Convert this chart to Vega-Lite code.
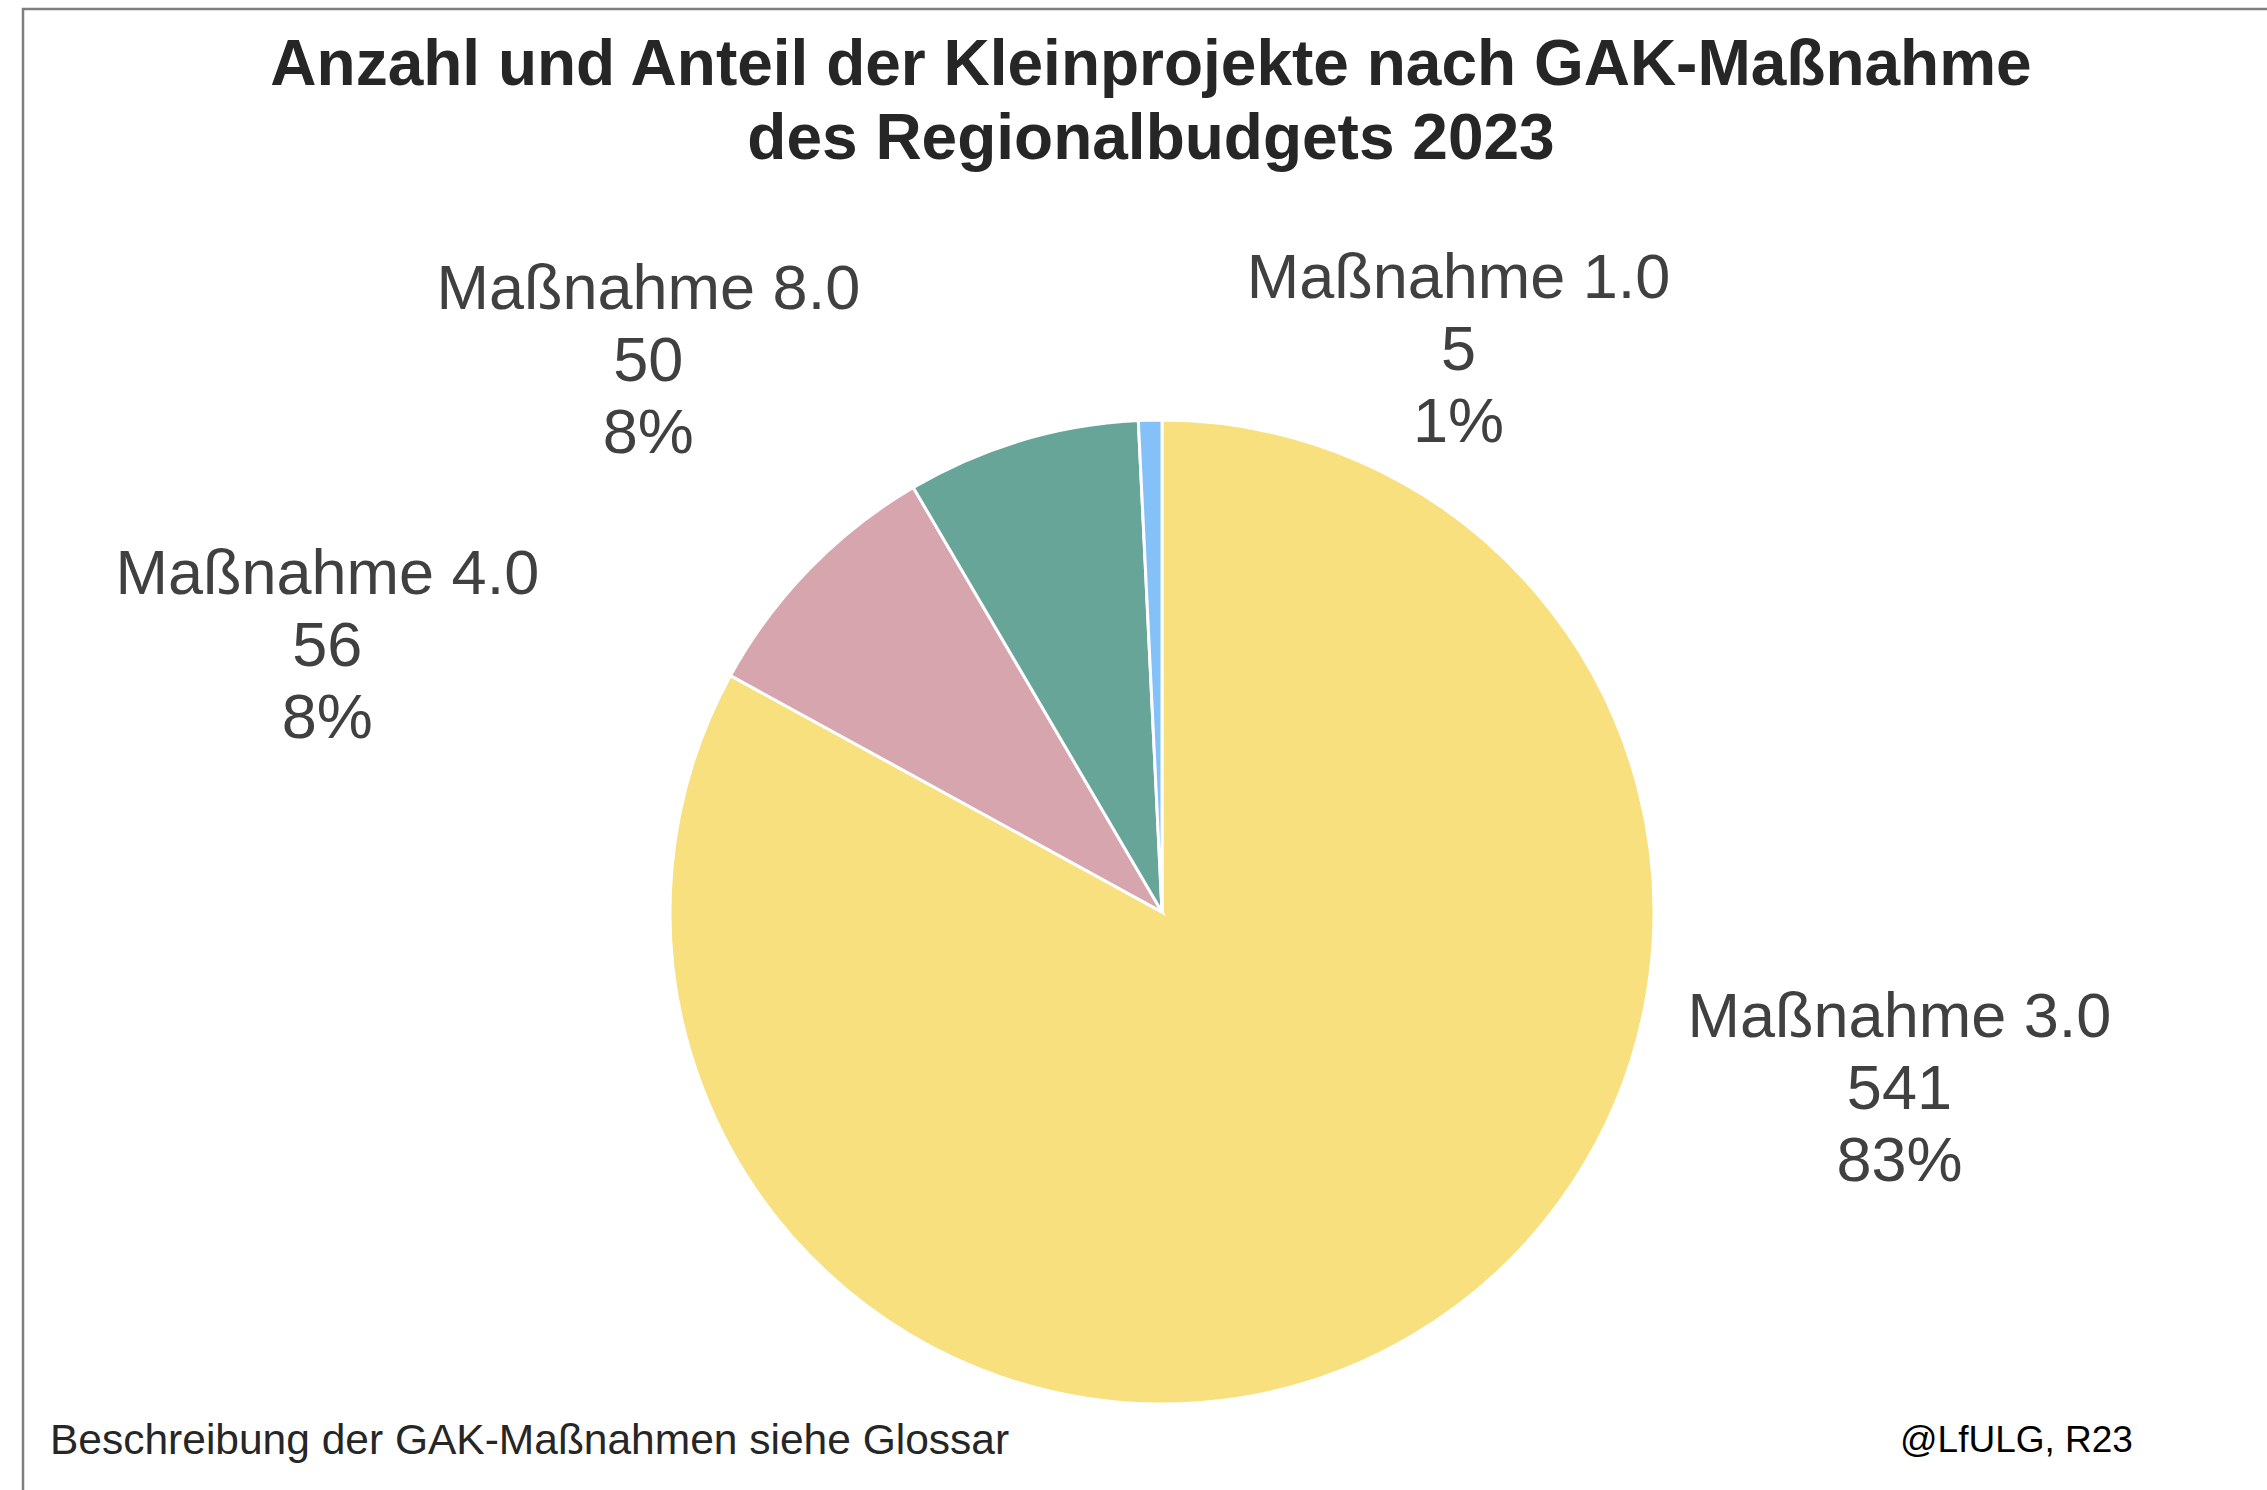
{
  "$schema": "https://vega.github.io/schema/vega-lite/v6.json",
  "width": 2278,
  "height": 1806,
  "autosize": {"type": "none"},
  "padding": {"left": 23, "top": 9, "right": 0, "bottom": 0},
  "background": "white",
  "config": {"view": {"stroke": "#7f7f7f", "strokeWidth": 2.5}},
  "title": {
    "text": ["Anzahl und Anteil der Kleinprojekte nach GAK-Maßnahme", "des Regionalbudgets 2023"],
    "anchor": "middle",
    "frame": "group",
    "font": "Liberation Sans",
    "fontSize": 64,
    "fontWeight": "bold",
    "color": "#262626",
    "lineHeight": 74,
    "baseline": "middle",
    "offset": -195,
    "dx": -11
  },
  "data": {
    "values": [
      {"name": "Maßnahme 3.0", "n": 541, "pct": 83, "rank": 1},
      {"name": "Maßnahme 4.0", "n": 56, "pct": 8, "rank": 2},
      {"name": "Maßnahme 8.0", "n": 50, "pct": 8, "rank": 3},
      {"name": "Maßnahme 1.0", "n": 5, "pct": 1, "rank": 4}
    ]
  },
  "layer": [
    {
      "transform": [
        {"stack": "n", "groupby": [], "sort": [{"field": "rank", "order": "ascending"}], "as": ["t0", "t1"]}
      ],
      "mark": {"type": "arc", "radius": 492, "stroke": "white", "strokeWidth": 3},
      "encoding": {
        "theta": {"field": "t0", "type": "quantitative", "scale": {"domain": [0, 652]}},
        "theta2": {"field": "t1"},
        "color": {
          "field": "name",
          "type": "nominal",
          "scale": {
            "domain": ["Maßnahme 3.0", "Maßnahme 4.0", "Maßnahme 8.0", "Maßnahme 1.0"],
            "range": ["#F8E07E", "#D6A5AD", "#67A598", "#83C1F8"]
          },
          "legend": null
        }
      }
    },
    {
      "transform": [
        {"stack": "n", "groupby": [], "sort": [{"field": "rank", "order": "ascending"}], "as": ["t0", "t1"]},
        {"calculate": "(datum.t0 + datum.t1) / 2", "as": "mid"},
        {"calculate": "[datum.name, '' + datum.n, datum.pct + '%']", "as": "label"},
        {"filter": "datum.name === 'Maßnahme 3.0'"}
      ],
      "mark": {"type": "text", "radius": 560, "dx": 452, "dy": -376, "font": "Liberation Sans", "fontSize": 63, "lineHeight": 72, "color": "#404040", "align": "center", "baseline": "middle"},
      "encoding": {
        "theta": {"field": "mid", "type": "quantitative"},
        "text": {"field": "label", "type": "nominal"}
      }
    },
    {
      "transform": [
        {"stack": "n", "groupby": [], "sort": [{"field": "rank", "order": "ascending"}], "as": ["t0", "t1"]},
        {"calculate": "(datum.t0 + datum.t1) / 2", "as": "mid"},
        {"calculate": "[datum.name, '' + datum.n, datum.pct + '%']", "as": "label"},
        {"filter": "datum.name === 'Maßnahme 4.0'"}
      ],
      "mark": {"type": "text", "radius": 560, "dx": -433, "dy": 53, "font": "Liberation Sans", "fontSize": 63, "lineHeight": 72, "color": "#404040", "align": "center", "baseline": "middle"},
      "encoding": {
        "theta": {"field": "mid", "type": "quantitative"},
        "text": {"field": "label", "type": "nominal"}
      }
    },
    {
      "transform": [
        {"stack": "n", "groupby": [], "sort": [{"field": "rank", "order": "ascending"}], "as": ["t0", "t1"]},
        {"calculate": "(datum.t0 + datum.t1) / 2", "as": "mid"},
        {"calculate": "[datum.name, '' + datum.n, datum.pct + '%']", "as": "label"},
        {"filter": "datum.name === 'Maßnahme 8.0'"}
      ],
      "mark": {"type": "text", "radius": 560, "dx": -354, "dy": -85, "font": "Liberation Sans", "fontSize": 63, "lineHeight": 72, "color": "#404040", "align": "center", "baseline": "middle"},
      "encoding": {
        "theta": {"field": "mid", "type": "quantitative"},
        "text": {"field": "label", "type": "nominal"}
      }
    },
    {
      "transform": [
        {"stack": "n", "groupby": [], "sort": [{"field": "rank", "order": "ascending"}], "as": ["t0", "t1"]},
        {"calculate": "(datum.t0 + datum.t1) / 2", "as": "mid"},
        {"calculate": "[datum.name, '' + datum.n, datum.pct + '%']", "as": "label"},
        {"filter": "datum.name === 'Maßnahme 1.0'"}
      ],
      "mark": {"type": "text", "radius": 560, "dx": 310, "dy": -73, "font": "Liberation Sans", "fontSize": 63, "lineHeight": 72, "color": "#404040", "align": "center", "baseline": "middle"},
      "encoding": {
        "theta": {"field": "mid", "type": "quantitative"},
        "text": {"field": "label", "type": "nominal"}
      }
    },
    {
      "data": {"values": [{"note": "Beschreibung der GAK-Maßnahmen siehe Glossar"}]},
      "mark": {"type": "text", "font": "Liberation Sans", "fontSize": 42.5, "color": "#262626", "align": "left", "baseline": "middle"},
      "encoding": {
        "x": {"value": 27},
        "y": {"value": 1432},
        "text": {"field": "note", "type": "nominal"}
      }
    },
    {
      "data": {"values": [{"note": "@LfULG, R23"}]},
      "mark": {"type": "text", "font": "Liberation Sans", "fontSize": 37, "color": "#000000", "align": "left", "baseline": "middle"},
      "encoding": {
        "x": {"value": 1877},
        "y": {"value": 1432},
        "text": {"field": "note", "type": "nominal"}
      }
    }
  ]
}
